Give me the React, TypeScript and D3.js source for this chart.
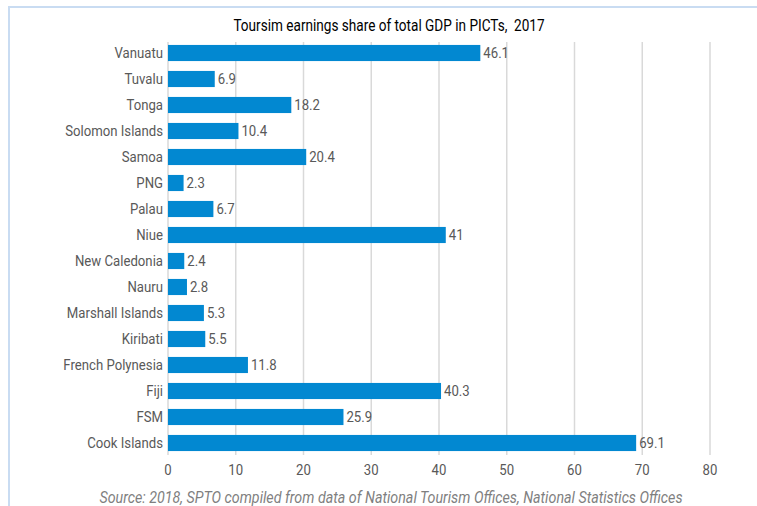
import React, { useRef, useEffect } from 'react'
import * as d3 from "d3";

const categories = [
    "Vanuatu", "Tuvalu", "Tonga", "Solomon Islands", "Samoa", "PNG", "Palau", "Niue",
    "New Caledonia", "Nauru", "Marshall Islands", "Kiribati", "French Polynesia", "Fiji", "FSM", "Cook Islands"
];
const values = [46.1, 6.9, 18.2, 10.4, 20.4, 2.3, 6.7, 41, 2.4, 2.8, 5.3, 5.5, 11.8, 40.3, 25.9, 69.1];
const valueLabels = ["46.1", "6.9", "18.2", "10.4", "20.4", "2.3", "6.7", "41", "2.4", "2.8", "5.3", "5.5", "11.8", "40.3", "25.9", "69.1"];
const xTicks = [0, 10, 20, 30, 40, 50, 60, 70, 80];

const title = "Toursim earnings share of total GDP in PICTs,  2017";
const source = "Source: 2018, SPTO compiled from data of National Tourism Offices, National Statistics Offices";

const FONT = "Roboto, sans-serif";
const SQUEEZE = 0.85; // narrow the glyphs like the condensed original

function App() {
    const ref = useRef(null);

    useEffect(() => {
        const width = 757;
        const height = 506;
        const margin = { top: 40, right: 47, bottom: 50, left: 168 };

        const svg = d3.select(ref.current);
        svg.selectAll("*").remove();
        svg.attr("width", width).attr("height", height);

        // frame
        svg.append("path")
            .attr("d", `M9,${height} V7 H${width}`)
            .attr("fill", "none")
            .attr("stroke", "#c9dcf2")
            .attr("stroke-width", 2);

        const x = d3.scaleLinear().domain([0, 80]).range([margin.left, width - margin.right]);
        const y = d3.scaleBand().domain(categories).range([margin.top, height - margin.bottom]).paddingInner(0.38).paddingOuter(0.19);

        const txt = (sel, size = 15.5) => sel
            .style("font-family", FONT)
            .style("font-size", size + "px")
            .style("white-space", "pre");

        // gridlines
        svg.append("g")
            .selectAll("line")
            .data(xTicks)
            .enter()
            .append("line")
            .attr("x1", d => x(d))
            .attr("x2", d => x(d))
            .attr("y1", margin.top + 2)
            .attr("y2", height - margin.bottom - 1)
            .attr("stroke", "#d9d9d9")
            .attr("stroke-width", 1.5);

        // bars
        svg.append("g")
            .selectAll("rect")
            .data(values)
            .enter()
            .append("rect")
            .attr("x", x(0))
            .attr("y", (d, i) => y(categories[i]))
            .attr("width", d => x(d) - x(0))
            .attr("height", y.bandwidth())
            .attr("fill", "#0288d1");

        // value labels
        svg.append("g")
            .selectAll("text")
            .data(values)
            .enter()
            .append("text")
            .attr("transform", (d, i) => `translate(${x(d) + 3},${y(categories[i]) + y.bandwidth() / 2}) scale(${SQUEEZE},1)`)
            .attr("dy", "0.35em")
            .call(txt)
            .attr("fill", "#595959")
            .text((d, i) => valueLabels[i]);

        // category labels
        svg.append("g")
            .selectAll("text")
            .data(categories)
            .enter()
            .append("text")
            .attr("transform", d => `translate(${margin.left - 5},${y(d) + y.bandwidth() / 2}) scale(${SQUEEZE},1)`)
            .attr("dy", "0.35em")
            .attr("text-anchor", "end")
            .call(txt)
            .attr("fill", "#595959")
            .text(d => d);

        // x tick labels
        svg.append("g")
            .selectAll("text")
            .data(xTicks)
            .enter()
            .append("text")
            .attr("transform", d => `translate(${x(d)},${height - margin.bottom + 19}) scale(${SQUEEZE},1)`)
            .attr("text-anchor", "middle")
            .call(txt)
            .attr("fill", "#595959")
            .text(d => d);

        // title
        svg.append("text")
            .attr("transform", `translate(389,31) scale(${SQUEEZE},1)`)
            .attr("text-anchor", "middle")
            .call(txt, 16)
            .attr("fill", "#000")
            .text(title);

        // source
        svg.append("text")
            .attr("transform", `translate(391,503) scale(${SQUEEZE},1)`)
            .attr("text-anchor", "middle")
            .call(txt, 16.8)
            .style("font-style", "italic")
            .attr("fill", "#7f7f7f")
            .text(source);
    }, []);

    return (
        <div style={{ position: "absolute", left: 0, top: 0 }}>
            <svg ref={ref} style={{ display: "block" }}></svg>
        </div>
    )
}

export default App
